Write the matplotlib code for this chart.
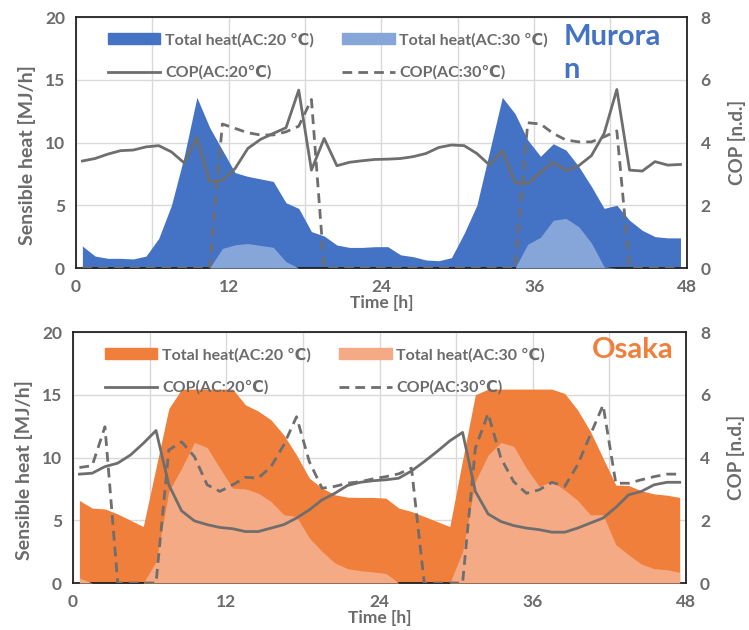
# Sensible heat and COP over two days for Muroran and Osaka

import numpy as np
import matplotlib.pyplot as plt
from matplotlib.lines import Line2D
from matplotlib.patches import Patch

plt.rcParams['font.family'] = ['Lato', 'DejaVu Sans']
plt.rcParams['font.weight'] = 'bold'
plt.rcParams['axes.labelweight'] = 'bold'

hours = np.arange(48) + 0.5

# Muroran
muroran_heat20 = [1.75, 0.95, 0.77, 0.77, 0.72, 0.95, 2.36, 5.0, 8.9, 13.6, 11.2, 9.4,
                  7.6, 7.3, 7.1, 6.9, 5.2, 4.75, 2.9, 2.55, 1.83, 1.64, 1.64, 1.7,
                  1.7, 1.05, 0.9, 0.64, 0.58, 0.82, 2.76, 5.0, 9.3, 13.6, 12.3, 10.2,
                  8.9, 9.9, 9.4, 8.1, 6.5, 4.75, 5.0, 3.8, 3.0, 2.5, 2.4, 2.4]
muroran_heat30 = [0, 0, 0, 0, 0, 0, 0, 0, 0, 0, 0, 1.56,
                  1.85, 1.95, 1.8, 1.65, 0.5, 0, 0, 0, 0, 0, 0, 0,
                  0, 0, 0, 0, 0, 0, 0, 0, 0, 0, 0, 1.9,
                  2.45, 3.8, 3.95, 3.3, 2.0, 0.1, 0, 0, 0, 0, 0, 0]
muroran_cop20 = [3.41, 3.49, 3.63, 3.74, 3.76, 3.86, 3.9, 3.7, 3.35, 4.16, 2.75, 2.8,
                 3.17, 3.81, 4.1, 4.29, 4.47, 5.67, 3.12, 4.13, 3.26, 3.37, 3.42, 3.46,
                 3.47, 3.49, 3.55, 3.65, 3.84, 3.92, 3.9, 3.65, 3.28, 3.74, 2.72, 2.7,
                 3.04, 3.37, 3.1, 3.26, 3.58, 4.29, 5.69, 3.12, 3.09, 3.39, 3.28, 3.3]
muroran_cop30 = [0, 0, 0, 0, 0, 0, 0, 0, 0, 0, 0, 4.59,
                 4.45, 4.31, 4.24, 4.24, 4.34, 4.52, 5.37, 0, 0, 0, 0, 0,
                 0, 0, 0, 0, 0, 0, 0, 0, 0, 0, 0, 4.63,
                 4.59, 4.29, 4.08, 4.02, 4.02, 4.18, 4.37, 0, 0, 0, 0, 0]

# Osaka
osaka_heat20 = [6.58, 5.97, 5.9, 5.5, 5.0, 4.5, 9.2, 13.9, 15.45, 15.45, 15.45, 15.45,
                15.45, 14.2, 13.7, 13.0, 11.8, 10.2, 8.36, 7.56, 7.03, 6.84, 6.82, 6.82,
                6.76, 5.97, 5.7, 5.3, 4.9, 4.5, 9.8, 15.0, 15.45, 15.45, 15.45, 15.45,
                15.45, 15.45, 15.1, 13.8, 12.1, 9.95, 7.8, 7.77, 7.35, 7.1, 7.0, 6.82]
osaka_heat30 = [0.4, 0, 0, 0, 0, 0, 1.7, 7.3, 9.15, 11.2, 10.8, 9.15,
                7.56, 7.5, 7.16, 6.5, 5.44, 5.3, 3.58, 2.52, 1.6, 1.14, 0.98, 0.88,
                0.76, 0, 0, 0, 0, 0, 2.5, 8.1, 10.2, 11.2, 10.9, 9.15,
                7.7, 8.1, 7.4, 6.6, 5.44, 5.44, 3.05, 2.25, 1.51, 1.14, 1.06, 0.85]
osaka_cop20 = [3.47, 3.5, 3.71, 3.82, 4.08, 4.45, 4.86, 3.13, 2.3, 1.98, 1.86, 1.77,
               1.73, 1.64, 1.64, 1.75, 1.86, 2.07, 2.33, 2.65, 2.86, 3.11, 3.21, 3.26,
               3.29, 3.34, 3.57, 3.87, 4.19, 4.53, 4.8, 2.92, 2.2, 1.96, 1.83, 1.75,
               1.7, 1.62, 1.62, 1.75, 1.91, 2.07, 2.41, 2.81, 2.92, 3.13, 3.21, 3.21]
osaka_cop30 = [3.68, 3.74, 4.98, 0, 0, 0, 0, 4.24, 4.5, 4.03, 3.13, 2.92,
               3.13, 3.37, 3.34, 3.71, 4.4, 5.3, 3.87, 3.02, 3.08, 3.18, 3.23, 3.32,
               3.39, 3.48, 3.66, 0, 0, 0, 0, 4.3, 5.4, 3.98, 3.23, 2.86,
               2.97, 3.21, 3.08, 3.76, 4.72, 5.67, 3.18, 3.18, 3.29, 3.39, 3.47, 3.47]

TEXT = '#6b6b6b'
LINE = '#6e6e6e'
DASH = (0, (3.5, 2.2))


def make_panel(fig, rect, heat20, heat30, cop20, cop30, dark, light, name, name_pos):
    ax = fig.add_axes(rect)
    ax.fill_between(hours, 0, heat20, color=dark, lw=0, zorder=2)
    ax.fill_between(hours, 0, heat30, color=light, lw=0, zorder=3)
    ax.set_xlim(0, 48)
    ax.set_ylim(0, 20)
    ax.set_xticks([0, 12, 24, 36, 48])
    ax.set_xticks([6, 18, 30, 42], minor=True)
    ax.set_yticks([0, 5, 10, 15, 20])
    ax.grid(True, which='both', color='#d9d9d9', lw=1.0, zorder=0)
    ax.set_axisbelow(True)
    ax.tick_params(which='both', length=0, labelsize=12.5, labelcolor=TEXT, pad=8)
    ax.set_ylabel('Sensible heat [MJ/h]', fontsize=14, color=TEXT)
    ax.yaxis.set_label_coords(-0.066, 0.45)
    ax.set_xlabel('Time [h]', fontsize=12.5, color=TEXT, labelpad=0)
    for s in ax.spines.values():
        s.set_color('#222222')
        s.set_linewidth(1.3)

    ax2 = ax.twinx()
    ax2.plot(hours, cop20, color=LINE, lw=2.0, zorder=4)
    ax2.plot(hours, cop30, color=LINE, lw=2.0, ls=DASH, zorder=4)
    ax2.set_ylim(0, 8)
    ax2.set_yticks([0, 2, 4, 6, 8])
    ax2.tick_params(length=0, labelsize=12.5, labelcolor=TEXT, pad=10)
    ax2.set_ylabel('COP [n.d.]', fontsize=13.5, color=TEXT, labelpad=12)
    for s in ax2.spines.values():
        s.set_visible(False)

    handles = [Patch(color=dark), Line2D([], [], color=LINE, lw=2.0),
               Patch(color=light), Line2D([], [], color=LINE, lw=2.0, ls=DASH)]
    labels = ['Total heat(AC:20 ℃)', 'COP(AC:20℃)', 'Total heat(AC:30 ℃)', 'COP(AC:30℃)']
    leg = ax2.legend(handles, labels, ncol=2, loc='upper left', bbox_to_anchor=(0.028, 0.995),
                     frameon=False, fontsize=11.5, handlelength=3.3, handleheight=0.6,
                     handletextpad=0.3, columnspacing=1.75, labelspacing=1.15)
    for t in leg.get_texts():
        t.set_color(TEXT)

    fig.text(name_pos[0], name_pos[1], name, color=dark, fontsize=21, fontweight='bold',
             va='top', ha='left', linespacing=1.35)
    return ax, ax2


fig = plt.figure(figsize=(7.49, 6.30), dpi=100)

make_panel(fig, [0.1015, 0.5746, 0.8155, 0.3984], muroran_heat20, muroran_heat30,
           muroran_cop20, muroran_cop30, '#4472c4', '#86a6da', 'Murora\nn', (0.752, 0.962))
make_panel(fig, [0.0975, 0.0746, 0.8185, 0.3984], osaka_heat20, osaka_heat30,
           osaka_cop20, osaka_cop30, '#f07f3c', '#f4aa84', 'Osaka', (0.79, 0.465))

fig.savefig('out.png', dpi=100)
